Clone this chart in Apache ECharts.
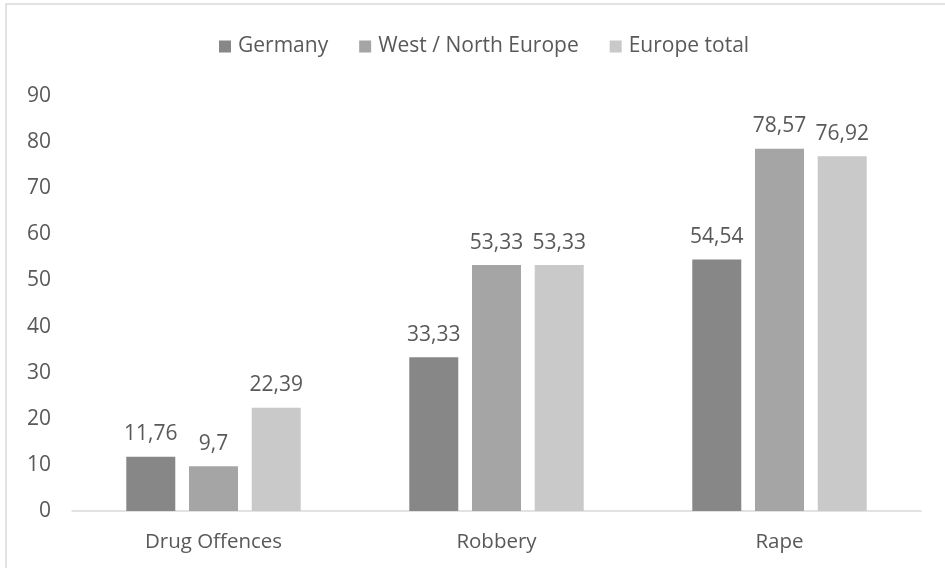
<!DOCTYPE html>
<html>
<head>
<meta charset="utf-8">
<script src="https://cdn.jsdelivr.net/npm/echarts@6/dist/echarts.min.js"></script>
<style>
  html, body { margin: 0; padding: 0; background: #fff; }
  #chart { width: 945px; height: 568px; }
</style>
</head>
<body>
<div id="chart"></div>
<script>
// Offence categories and share values per region
const categories = ['Drug Offences', 'Robbery', 'Rape'];
const germany = [11.76, 33.33, 54.54];
const westNorthEurope = [9.7, 53.33, 78.57];
const europeTotal = [22.39, 53.33, 76.92];
const seriesNames = ['Germany', 'West / North Europe', 'Europe total'];
const yTicks = { min: 0, max: 90, interval: 10 };

const FONT = '"Open Sans", "Liberation Sans", sans-serif';
const TEXT = '#595959';
const colors = ['#878787', '#a5a5a5', '#c9c9c9'];

// decimal comma
const fmt = v => String(v).replace('.', ',');

function makeSeries(name, data, color) {
  return {
    name: name,
    type: 'bar',
    data: data,
    barWidth: 49,
    barGap: '28%',
    itemStyle: { color: color },
    label: {
      show: true,
      position: 'top',
      distance: 12,
      color: TEXT,
      fontFamily: FONT,
      fontSize: 21,
      formatter: p => fmt(p.value)
    }
  };
}

const chart = echarts.init(document.getElementById('chart'), null, { renderer: 'canvas' });
chart.setOption({
  animation: false,
  color: colors,
  textStyle: { fontFamily: FONT },
  graphic: [{
    type: 'rect',
    shape: { x: 6, y: 4, width: 1000, height: 700 },
    style: { fill: 'none', stroke: '#d9d9d9', lineWidth: 1.5 },
    silent: true
  }],
  legend: {
    top: 31,
    left: 214,
    itemWidth: 12,
    itemHeight: 12,
    itemGap: 31,
    icon: 'rect',
    textStyle: { color: TEXT, fontFamily: FONT, fontSize: 21, padding: [0, 0, 0, 2] },
    data: seriesNames
  },
  grid: { left: 72, right: 24, top: 96, bottom: 57, containLabel: false },
  xAxis: {
    type: 'category',
    data: categories,
    axisLine: { lineStyle: { color: '#d9d9d9', width: 1.5 } },
    axisTick: { show: false },
    axisLabel: { color: TEXT, fontFamily: FONT, fontSize: 20.5, margin: 21 }
  },
  yAxis: {
    type: 'value',
    min: yTicks.min,
    max: yTicks.max,
    interval: yTicks.interval,
    axisLine: { show: false },
    axisTick: { show: false },
    splitLine: { show: false },
    axisLabel: { color: TEXT, fontFamily: FONT, fontSize: 21, margin: 21, align: 'right' }
  },
  series: [
    makeSeries(seriesNames[0], germany, colors[0]),
    makeSeries(seriesNames[1], westNorthEurope, colors[1]),
    makeSeries(seriesNames[2], europeTotal, colors[2])
  ]
});
</script>
</body>
</html>
